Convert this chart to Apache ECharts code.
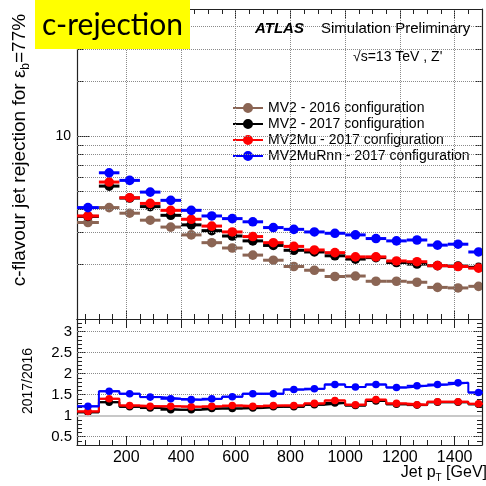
<!DOCTYPE html>
<html>
<head>
<meta charset="utf-8">
<title>c-rejection</title>
<script src="https://cdn.jsdelivr.net/npm/echarts@6.0.0/dist/echarts.min.js"></script>
<style>
  html, body { margin: 0; padding: 0; background: #fff; }
  #main { width: 486px; height: 486px; }
</style>
</head>
<body>
<div id="main"></div>
<script>
'use strict';

// jet pT binning [GeV]
const binEdges = [20, 100, 175, 250, 325, 400, 475, 550, 625, 700, 775, 850, 925, 1000, 1075, 1150, 1225, 1300, 1375, 1450, 1525];

const seriesNames = ['MV2 - 2016 configuration', 'MV2 - 2017 configuration', 'MV2Mu - 2017 configuration', 'MV2MuRnn - 2017 configuration'];
const seriesColors = ['#8b6554', '#000000', '#ff0000', '#0000ff'];

// c-jet rejection at eff_b = 77% (upper pad)
const rejMV2_2016 = [3.38, 4.08, 3.80, 3.48, 3.19, 2.89, 2.62, 2.45, 2.24, 2.10, 1.94, 1.85, 1.71, 1.72, 1.61, 1.61, 1.59, 1.49, 1.48, 1.51];
const rejMV2_2017 = [3.65, 5.35, 4.60, 4.13, 3.70, 3.28, 3.05, 2.85, 2.68, 2.53, 2.38, 2.33, 2.22, 2.13, 2.17, 2.04, 2.00, 1.96, 1.95, 1.92];
const rejMV2Mu = [3.67, 5.63, 4.62, 4.30, 3.94, 3.52, 3.23, 3.00, 2.83, 2.62, 2.50, 2.39, 2.31, 2.19, 2.19, 2.08, 2.06, 1.96, 1.94, 1.90];
const rejMV2MuRnn = [4.08, 6.33, 5.75, 4.96, 4.47, 3.94, 3.67, 3.55, 3.41, 3.17, 3.10, 3.00, 2.95, 2.89, 2.76, 2.68, 2.71, 2.54, 2.57, 2.33];

// ratio to MV2 2016 (lower pad)
const ratioMV2_2017 = [1.08, 1.32, 1.21, 1.18, 1.14, 1.14, 1.17, 1.17, 1.18, 1.21, 1.21, 1.26, 1.30, 1.24, 1.35, 1.27, 1.25, 1.32, 1.32, 1.27];
const ratioMV2Mu = [1.10, 1.40, 1.24, 1.22, 1.22, 1.21, 1.22, 1.24, 1.22, 1.24, 1.24, 1.29, 1.36, 1.26, 1.38, 1.29, 1.26, 1.33, 1.33, 1.28];
const ratioMV2MuRnn = [1.22, 1.58, 1.52, 1.44, 1.40, 1.38, 1.40, 1.45, 1.52, 1.52, 1.62, 1.64, 1.74, 1.68, 1.74, 1.67, 1.71, 1.74, 1.78, 1.55];

// axes
const X_MIN = 20, X_MAX = 1500;
const xTicksMajor = [200, 400, 600, 800, 1000, 1200, 1400];
const xTicksMinor = [];
for (let v = 50; v <= 1500; v += 50) xTicksMinor.push(v);
const logTicksMajor = [1, 10];
const logTicksMinor = [2, 3, 4, 5, 6, 7, 8, 9, 20, 30, 40, 50];
const logGrid = [2, 3, 4, 5, 6, 7, 8, 9, 10, 20, 30, 40];
const ratioTicksMajor = [0.5, 1, 1.5, 2, 2.5, 3];
const ratioTicksMinor = [];
for (let i = 4; i <= 33; i++) ratioTicksMinor.push(i / 10);
const ratioGrid = [0.5, 1.5, 2, 2.5, 3];

const FONT = '"Liberation Sans", Arial, sans-serif';
const AXIS_COL = '#222';
const GRID_COL = '#8a8a8a';
const LEG_ICON = 'path://M0,4 L30,4 L30,6 L0,6 Z M20,5 A5,5 0 1 1 10,5 A5,5 0 1 1 20,5 Z';

function xAxisDef(grid, pos, ticks, len, showLine, label) {
  return {
    type: 'value', gridIndex: grid, position: pos, min: X_MIN, max: X_MAX,
    axisLine: { show: showLine, onZero: false, lineStyle: { color: AXIS_COL, width: 1.2 } },
    axisTick: { show: true, inside: true, length: len, customValues: ticks, lineStyle: { color: AXIS_COL, width: 1 } },
    axisLabel: label || { show: false },
    splitLine: { show: false }
  };
}

function yAxisDef(grid, pos, type, min, max, ticks, len, showLine, label) {
  return {
    type: type, gridIndex: grid, position: pos, min: min, max: max,
    axisLine: { show: showLine, onZero: false, lineStyle: { color: AXIS_COL, width: 1.2 } },
    axisTick: { show: true, inside: true, length: len, customValues: ticks, lineStyle: { color: AXIS_COL, width: 1 } },
    axisLabel: label || { show: false },
    splitLine: { show: false }
  };
}

const xAxes = [
  xAxisDef(0, 'bottom', xTicksMajor, 9, true),
  xAxisDef(0, 'bottom', xTicksMinor, 5, false),
  xAxisDef(0, 'top', xTicksMajor, 9, true),
  xAxisDef(0, 'top', xTicksMinor, 5, false),
  xAxisDef(1, 'bottom', xTicksMajor, 9, true, {
    show: true, customValues: xTicksMajor, margin: 5,
    formatter: v => String(v),
    fontFamily: FONT, fontSize: 16, color: '#000'
  }),
  xAxisDef(1, 'bottom', xTicksMinor, 5, false),
  xAxisDef(1, 'top', xTicksMajor, 9, true),
  xAxisDef(1, 'top', xTicksMinor, 5, false)
];

const yAxes = [
  yAxisDef(0, 'left', 'log', 1, 50, logTicksMajor, 12, true, {
    show: true, customValues: [10], margin: 6,
    fontFamily: FONT, fontSize: 14, color: '#000'
  }),
  yAxisDef(0, 'left', 'log', 1, 50, logTicksMinor, 6, false),
  yAxisDef(0, 'right', 'log', 1, 50, logTicksMajor, 12, true),
  yAxisDef(0, 'right', 'log', 1, 50, logTicksMinor, 6, false),
  yAxisDef(1, 'left', 'value', 0.3, 3.3, ratioTicksMajor, 9, true, {
    show: true, customValues: ratioTicksMajor, margin: 5,
    fontFamily: FONT, fontSize: 15, color: '#000'
  }),
  yAxisDef(1, 'left', 'value', 0.3, 3.3, ratioTicksMinor, 5, false),
  yAxisDef(1, 'right', 'value', 0.3, 3.3, ratioTicksMajor, 9, true),
  yAxisDef(1, 'right', 'value', 0.3, 3.3, ratioTicksMinor, 5, false)
];

function barItem(lineW, r) {
  return function (params, api) {
    const x0 = api.value(0), x1 = api.value(1), y = api.value(2);
    const a = api.coord([x0, y]);
    const b = api.coord([x1, y]);
    const c = api.coord([(x0 + x1) / 2, y]);
    const col = api.visual('color');
    return {
      type: 'group',
      children: [
        { type: 'line', shape: { x1: a[0], y1: a[1], x2: b[0], y2: b[1] }, style: { stroke: col, lineWidth: lineW } },
        { type: 'circle', shape: { cx: c[0], cy: c[1], r: r }, style: { fill: col } }
      ]
    };
  };
}

function binData(vals) {
  return vals.map((v, i) => [binEdges[i], binEdges[i + 1], v]);
}

function stepData(vals) {
  const out = [];
  vals.forEach((v, i) => { out.push([binEdges[i], v]); out.push([binEdges[i + 1], v]); });
  return out;
}

const rejSets = [rejMV2_2016, rejMV2_2017, rejMV2Mu, rejMV2MuRnn];
const ratioSets = [null, ratioMV2_2017, ratioMV2Mu, ratioMV2MuRnn];

const series = [];

// dotted grid lines, drawn through the axes
series.push({
  type: 'line', xAxisIndex: 0, yAxisIndex: 0, data: [], silent: true,
  markLine: {
    silent: true, symbol: ['none', 'none'], label: { show: false }, animation: false,
    lineStyle: { color: GRID_COL, type: 'dotted', width: 1 },
    data: logGrid.map(v => ({ yAxis: v })).concat(xTicksMajor.map(v => ({ xAxis: v })))
  }
});
series.push({
  type: 'line', xAxisIndex: 4, yAxisIndex: 4, data: [], silent: true,
  markLine: {
    silent: true, symbol: ['none', 'none'], label: { show: false }, animation: false,
    lineStyle: { color: GRID_COL, type: 'dotted', width: 1 },
    data: ratioGrid.map(v => ({ yAxis: v })).concat([{ yAxis: 1, lineStyle: { color: '#c8c8c8', type: 'solid', width: 2 } }])
  }
});

rejSets.forEach((vals, k) => {
  series.push({
    name: seriesNames[k], type: 'custom', xAxisIndex: 0, yAxisIndex: 0,
    clip: true, itemStyle: { color: seriesColors[k] },
    encode: { x: [0, 1], y: 2 },
    renderItem: barItem(3, 4.8),
    data: binData(vals), z: 3 + k
  });
});

ratioSets.forEach((vals, k) => {
  if (!vals) return;
  series.push({
    name: 'ratio ' + seriesNames[k], type: 'line', xAxisIndex: 4, yAxisIndex: 4,
    showSymbol: false, clip: true, silent: true,
    lineStyle: { color: seriesColors[k], width: 2 },
    itemStyle: { color: seriesColors[k] },
    data: stepData(vals), z: 3 + k
  });
  series.push({
    name: 'ratio pts ' + seriesNames[k], type: 'custom', xAxisIndex: 4, yAxisIndex: 4,
    clip: true, itemStyle: { color: seriesColors[k] },
    encode: { x: [0, 1], y: 2 },
    renderItem: barItem(2, 3.8),
    data: binData(vals), z: 3 + k
  });
});

const chart = echarts.init(document.getElementById('main'), null, { renderer: 'canvas' });

chart.setOption({
  animation: false,
  backgroundColor: '#fff',
  grid: [
    { left: 77, right: 4, top: 9, height: 310 },
    { left: 77, right: 4, top: 319, height: 126 }
  ],
  xAxis: xAxes,
  yAxis: yAxes,
  legend: {
    orient: 'vertical', left: 233, top: 101, padding: 0,
    itemWidth: 30, itemHeight: 10, itemGap: 2,
    selectedMode: false,
    textStyle: { fontFamily: FONT, fontSize: 14, color: '#000' },
    data: seriesNames.map(n => ({ name: n, icon: LEG_ICON }))
  },
  graphic: { elements: [
    { type: 'rect', shape: { x: 35, y: 0, width: 155, height: 49 }, style: { fill: '#ffff00' }, z: 100 },
    { type: 'text', x: 42, y: 25, z: 101,
      style: { text: 'c-rejection', font: '30px Lato, "Open Sans", sans-serif', fill: '#000', verticalAlign: 'middle' } },
    { type: 'text', x: 255, y: 29, z: 101,
      style: { text: 'ATLAS', font: 'italic bold 15px ' + FONT, fill: '#000', verticalAlign: 'middle' } },
    { type: 'text', x: 321, y: 29, z: 101,
      style: { text: 'Simulation Preliminary', font: '15px ' + FONT, fill: '#000', verticalAlign: 'middle' } },
    { type: 'text', x: 353, y: 57, z: 101,
      style: { text: '\u221As=13 TeV , Z\'', font: '14px ' + FONT, fill: '#000', verticalAlign: 'middle' } },
    { type: 'text', x: 20, y: 150, rotation: Math.PI / 2, z: 101,
      style: {
        text: '{n|c-flavour jet rejection for \u03B5}{s|b}{n|=77%}', align: 'center', verticalAlign: 'middle',
        rich: {
          n: { fontFamily: FONT, fontSize: 19, lineHeight: 24, verticalAlign: 'middle', fill: '#000' },
          s: { fontFamily: FONT, fontSize: 12, lineHeight: 24, verticalAlign: 'bottom', fill: '#000' }
        }
      } },
    { type: 'text', x: 28, y: 381, rotation: Math.PI / 2, z: 101,
      style: { text: '2017/2016', font: '14px ' + FONT, fill: '#000', align: 'center', verticalAlign: 'middle' } },
    { type: 'text', x: 487, y: 473, z: 101,
      style: {
        text: '{n|Jet p}{s|T}{n| [GeV]}', align: 'right', verticalAlign: 'middle',
        rich: {
          n: { fontFamily: FONT, fontSize: 16, lineHeight: 20, verticalAlign: 'middle', fill: '#000' },
          s: { fontFamily: FONT, fontSize: 10, lineHeight: 20, verticalAlign: 'bottom', fill: '#000' }
        }
      } }
  ] },
  series: series
});
</script>
</body>
</html>
